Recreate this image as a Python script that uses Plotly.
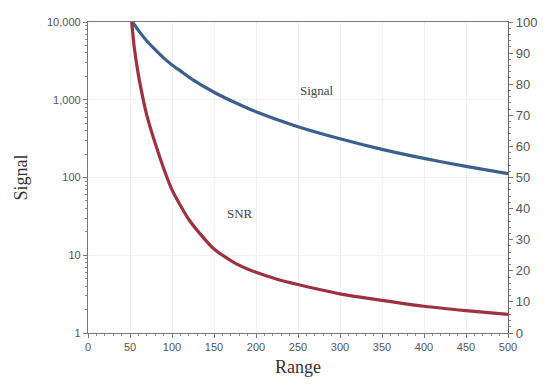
import plotly.graph_objects as go

# Signal (left, log axis)
sig_range = [53, 60, 70, 80, 90, 100, 110, 125, 150, 175, 200, 250, 300, 350, 400, 450, 500]
sig_value = [10000, 7800, 5700, 4400, 3450, 2800, 2350, 1800, 1250, 920, 700, 450, 315, 230, 176, 139, 112]

# SNR (right, linear axis)
snr_range = [52, 55, 60, 65, 70, 80, 90, 100, 110, 120, 130, 150, 175, 200, 225, 250, 300, 350, 400, 450, 500]
snr_value = [100, 92, 83, 76, 70, 61, 53, 46, 41, 36.5, 33, 27, 22.5, 19.5, 17.3, 15.6, 12.6, 10.5, 8.6, 7.2, 6.0]

left_ticks = [1, 10, 100, 1000, 10000]
left_labels = ["1", "10", "100", "1,000", "10,000"]
left_minor = [m * d for d in [1, 10, 100, 1000] for m in range(2, 10)]
right_ticks = list(range(0, 101, 10))
x_ticks = list(range(0, 501, 50))

fig = go.Figure()
fig.add_trace(go.Scatter(x=sig_range, y=sig_value, mode="lines", yaxis="y",
                         line=dict(color="#3b5f8f", width=3.2, shape="spline", smoothing=0.6),
                         showlegend=False, name="Signal"))
fig.add_trace(go.Scatter(x=snr_range, y=snr_value, mode="lines", yaxis="y2",
                         line=dict(color="#9e3140", width=3.2, shape="spline", smoothing=0.6),
                         showlegend=False, name="SNR"))

tickfont = dict(family="Liberation Sans, Arial, sans-serif", size=11, color="#555555")
titlefont = dict(family="Liberation Serif, Times New Roman, serif", size=18, color="#333333")
annfont = dict(family="Liberation Serif, Times New Roman, serif", size=13, color="#444444")

fig.update_layout(
    width=560, height=390,
    margin=dict(l=88, r=52, t=22, b=57),
    paper_bgcolor="white", plot_bgcolor="white",
    xaxis=dict(range=[0, 500], tickvals=x_ticks, showgrid=True, gridcolor="#f1f1f1",
               showline=True, linecolor="#777777", linewidth=1.3, mirror=True,
               ticks="outside", ticklen=4, tickcolor="#777777",
               minor=dict(dtick=10, ticks="outside", ticklen=2, tickcolor="#888888"),
               tickfont=tickfont, zeroline=False,
               title=dict(text="Range", font=titlefont, standoff=8)),
    yaxis=dict(type="log", range=[0, 4], tickvals=left_ticks, ticktext=left_labels,
               showgrid=True, gridcolor="#f1f1f1", showline=True, linecolor="#777777",
               linewidth=1.3, ticks="outside", ticklen=4, tickcolor="#777777",
               minor=dict(tickvals=left_minor, ticks="outside", ticklen=2,
                          tickcolor="#888888", showgrid=False),
               tickfont=tickfont, zeroline=False,
               title=dict(text="Signal", font=titlefont, standoff=14)),
    yaxis2=dict(range=[0, 100], tickvals=right_ticks, overlaying="y", side="right",
                showgrid=False, showline=True, linecolor="#666666", linewidth=1.3,
                ticks="outside", ticklen=4, tickcolor="#777777",
                minor=dict(dtick=2, ticks="outside", ticklen=2, tickcolor="#888888"),
                tickfont=dict(family="Liberation Sans, Arial, sans-serif", size=13, color="#555555"),
                zeroline=False),
    annotations=[
        dict(x=273, y=3.12, xref="x", yref="y", text="Signal", showarrow=False, font=annfont),
        dict(x=181, y=38.5, xref="x", yref="y2", text="SNR", showarrow=False, font=annfont),
    ],
)
fig.write_html("out.html")
